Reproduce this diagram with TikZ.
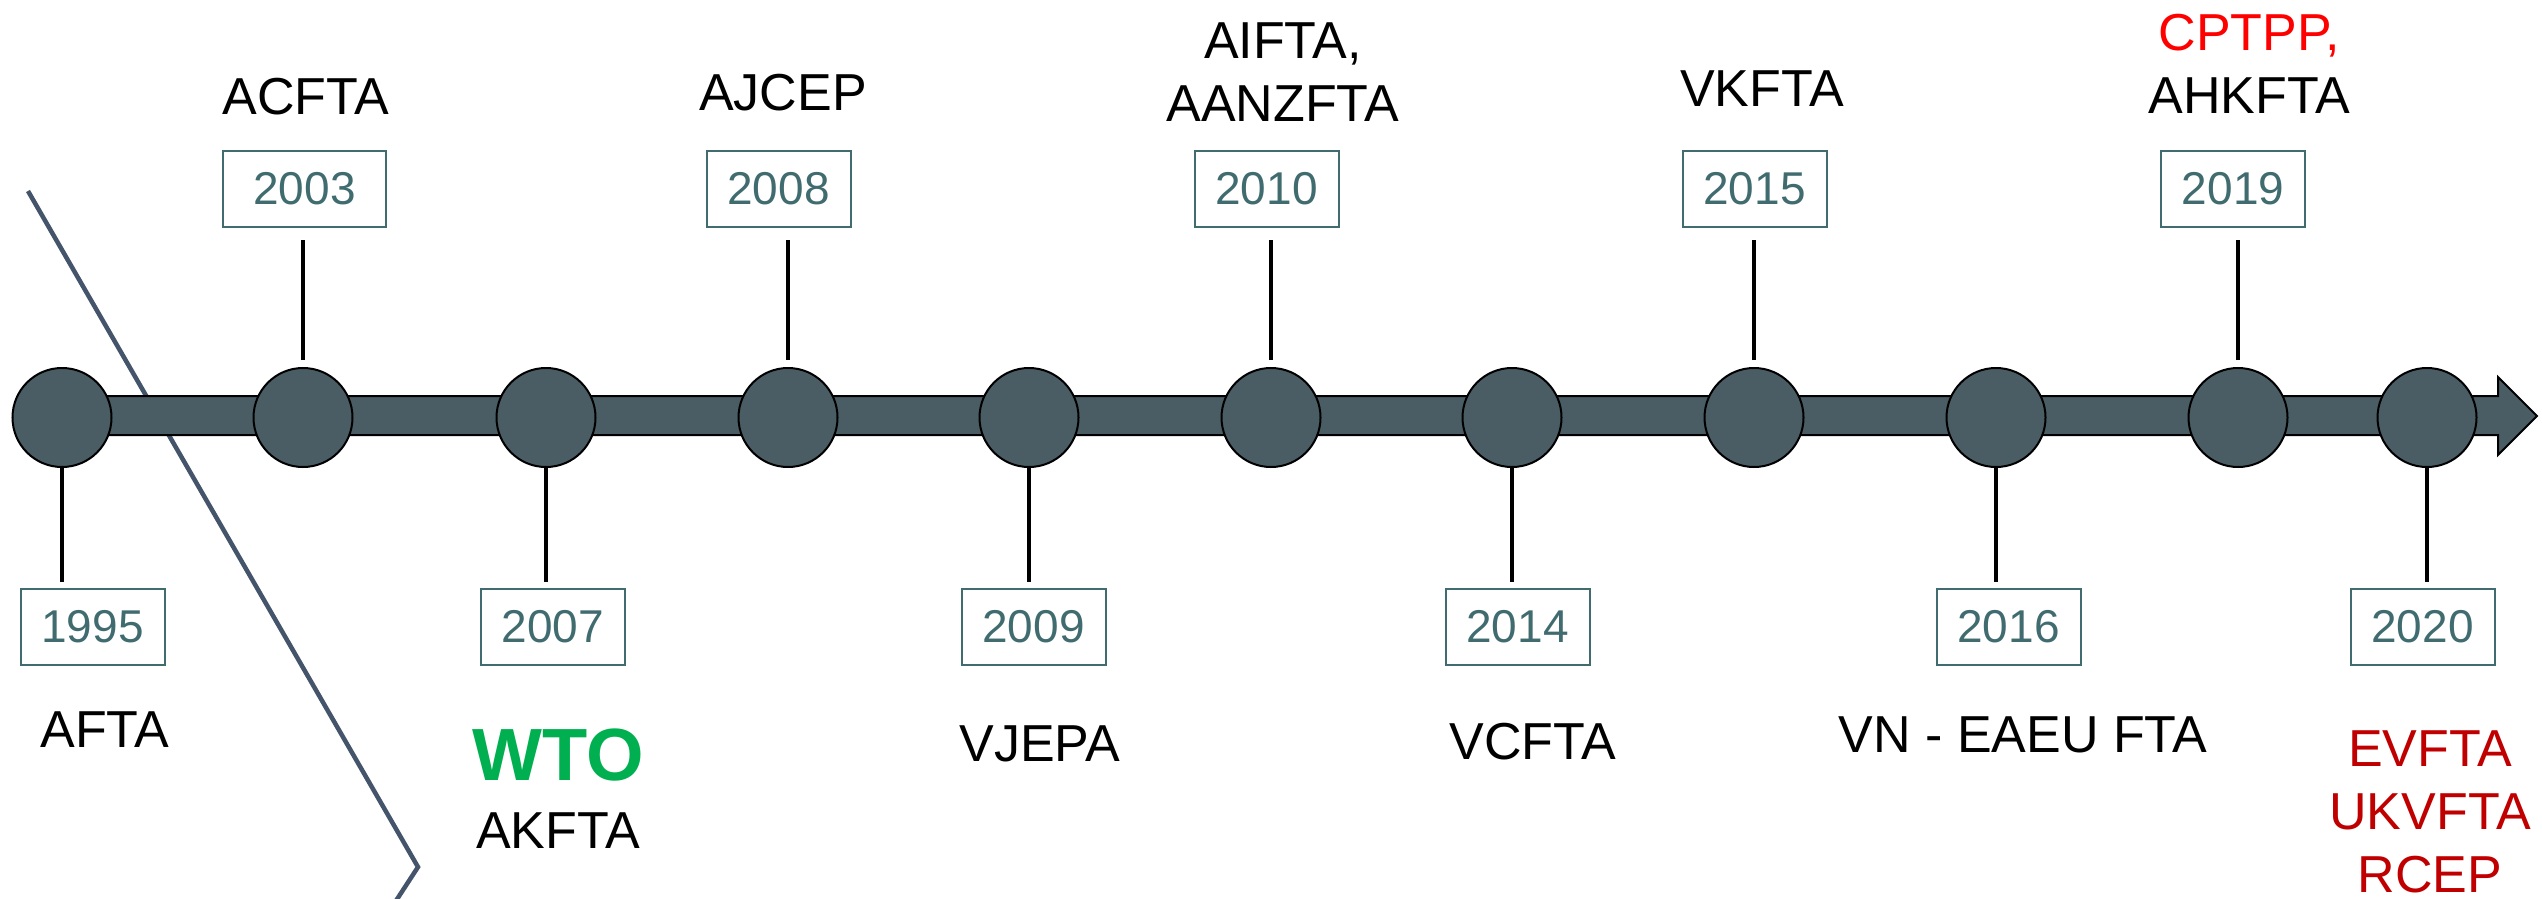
\documentclass[tikz,border=0pt]{standalone}
\usepackage{fontspec}
\setmainfont{Liberation Sans}
\definecolor{dotfill}{RGB}{74,93,100}
\definecolor{yearteal}{RGB}{64,108,112}
\definecolor{slate}{RGB}{68,84,106}
\definecolor{wtogreen}{RGB}{0,176,80}
\definecolor{cpred}{RGB}{255,0,0}
\definecolor{evred}{RGB}{192,0,0}
\begin{document}
\begin{tikzpicture}[x=1pt,y=-1pt,
  dot/.style={circle, draw=black, line width=2pt, fill=dotfill, minimum size=99pt, inner sep=0pt},
  yearbox/.style={draw=yearteal, line width=2pt, text=yearteal, font=\fontsize{46}{50}\selectfont, minimum width=144pt, minimum height=76pt, inner sep=0pt},
  lbl/.style={font=\fontsize{52}{63}\selectfont, align=center, inner sep=0pt},
  conn/.style={line width=3.5pt, draw=black},
  uplink/.style={conn, shorten <=7pt, shorten >=12pt},
  downlink/.style={conn, shorten >=6pt}]
\useasboundingbox (0,0) rectangle (2542,899);
\fill[white] (0,0) rectangle (2542,899);
% diagonal break line
\coordinate (d1) at (28,191);
\coordinate (d2) at (418,867);
\coordinate (d3) at (390,910);
\draw[slate, line width=4.5pt, line join=miter] (d1) -- (d2) -- (d3);
% timeline bar with arrow head
\filldraw[fill=dotfill, draw=black, line width=2pt, line join=miter]
  (62,396) -- (2498,396) -- (2498,377) -- (2537,416) -- (2498,455) -- (2498,435) -- (62,435) -- cycle;
% circles
\node[dot] (c1) at (62,417.5) {};
\node[dot] (c2) at (303,417.5) {};
\node[dot] (c3) at (546,417.5) {};
\node[dot] (c4) at (788,417.5) {};
\node[dot] (c5) at (1029,417.5) {};
\node[dot] (c6) at (1271,417.5) {};
\node[dot] (c7) at (1512,417.5) {};
\node[dot] (c8) at (1754,417.5) {};
\node[dot] (c9) at (1996,417.5) {};
\node[dot] (c10) at (2238,417.5) {};
\node[dot] (c11) at (2427,417.5) {};
% year boxes, top
\node[yearbox, minimum width=163pt] (b2003) at (304.5,189) {2003\hspace{22pt}};
\node[yearbox] (b2008) at (778.5,189) {2008};
\node[yearbox] (b2010) at (1266.5,189) {2010};
\node[yearbox] (b2015) at (1754.5,189) {2015};
\node[yearbox] (b2019) at (2233,189) {2019};
% year boxes, bottom
\node[yearbox] (b1995) at (92.5,627) {1995};
\node[yearbox] (b2007) at (553,627) {2007};
\node[yearbox] (b2009) at (1033.5,627) {2009};
\node[yearbox] (b2014) at (1517.5,627) {2014};
\node[yearbox] (b2016) at (2008.5,627) {2016};
\node[yearbox] (b2020) at (2422.5,627) {2020};
% connectors
\draw[uplink] (c2.north) -- (c2.north |- b2003.south);
\draw[uplink] (c4.north) -- (c4.north |- b2008.south);
\draw[uplink] (c6.north) -- (c6.north |- b2010.south);
\draw[uplink] (c8.north) -- (c8.north |- b2015.south);
\draw[uplink] (c10.north) -- (c10.north |- b2019.south);
\draw[downlink] (c1.south) -- (c1.south |- b1995.north);
\draw[downlink] (c3.south) -- (c3.south |- b2007.north);
\draw[downlink] (c5.south) -- (c5.south |- b2009.north);
\draw[downlink] (c7.south) -- (c7.south |- b2014.north);
\draw[downlink] (c9.south) -- (c9.south |- b2016.north);
\draw[downlink] (c11.south) -- (c11.south |- b2020.north);
% labels, top
\node[lbl, anchor=base] (lacfta) at (306,114) {ACFTA};
\node[lbl, anchor=base] (lajcep) at (783,110) {AJCEP};
\node[lbl, anchor=south] (laifta) at (1283,122) {AIFTA,\\AANZFTA};
\node[lbl, anchor=base] (lvkfta) at (1762,106) {VKFTA};
\node[lbl, anchor=south] (lcptpp) at (2249,114) {{\color{cpred}CPTPP,}\\AHKFTA};
% labels, bottom
\node[lbl, anchor=base] (lafta) at (105,747) {AFTA};
\node[anchor=base, inner sep=0pt, text=wtogreen, font=\bfseries\fontsize{74}{80}\selectfont] (lwto) at (558,780) {WTO};
\node[lbl, anchor=base] (lakfta) at (558,848) {AKFTA};
\node[lbl, anchor=base] (lvjepa) at (1040,761) {VJEPA};
\node[lbl, anchor=base] (lvcfta) at (1533,759) {VCFTA};
\node[lbl, anchor=base] (lvn) at (2023,752) {VN - EAEU FTA};
\node[lbl, anchor=south, text=evred] (levfta) at (2430,893) {EVFTA\\UKVFTA\\RCEP};
\end{tikzpicture}
\end{document}
